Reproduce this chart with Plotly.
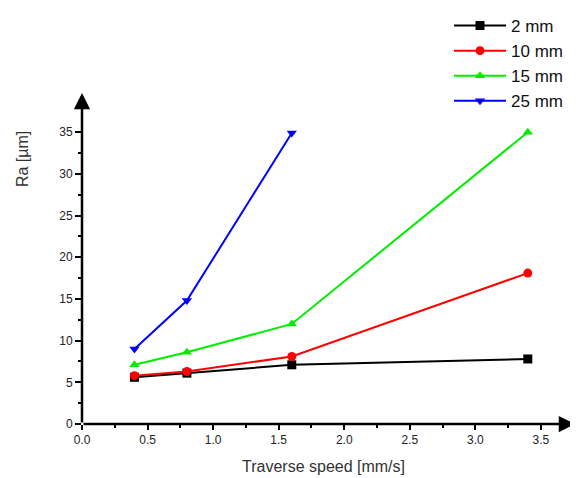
import plotly.graph_objects as go

speed = [0.4, 0.8, 1.6, 3.4]
speed_25 = [0.4, 0.8, 1.6]
ra_2mm = [5.6, 6.1, 7.1, 7.8]
ra_10mm = [5.8, 6.3, 8.1, 18.1]
ra_15mm = [7.1, 8.6, 12.0, 35.0]
ra_25mm = [9.0, 14.8, 34.9]

x_ticks = [0.0, 0.5, 1.0, 1.5, 2.0, 2.5, 3.0, 3.5]
y_ticks = [0, 5, 10, 15, 20, 25, 30, 35]
labels = ["2 mm", "10 mm", "15 mm", "25 mm"]

FONT = "Liberation Sans, Arial, sans-serif"

fig = go.Figure()
series = [
    (labels[0], speed, ra_2mm, "#000000", "square"),
    (labels[1], speed, ra_10mm, "#ff0000", "circle"),
    (labels[2], speed, ra_15mm, "#00ee00", "triangle-up"),
    (labels[3], speed_25, ra_25mm, "#0000ff", "triangle-down"),
]
for name, xs, ys, col, sym in series:
    fig.add_trace(go.Scatter(x=xs, y=ys, name=name + "\u00a0\u00a0", mode="lines+markers",
                             line=dict(color=col, width=2),
                             marker=dict(color=col, symbol=sym, size=9)))

XMAX = 3.76
YMAX = 39.7
fig.update_layout(
    width=570, height=470,
    margin=dict(l=74, r=3, t=85, b=54, autoexpand=False),
    plot_bgcolor="white", paper_bgcolor="white",
    font=dict(family=FONT, color="#222"),
    showlegend=True,
    legend=dict(xref="container", yref="container", x=1.0, y=1.026,
                xanchor="right", yanchor="top", font=dict(size=17, color="#111"),
                itemwidth=52, tracegroupgap=0, bgcolor="rgba(0,0,0,0)"),
    xaxis=dict(range=[0, XMAX], tickvals=x_ticks, ticktext=[f"{v:.1f}" for v in x_ticks],
               showgrid=False, zeroline=False, showline=False,
               ticks="outside", ticklen=5, tickwidth=2, tickcolor="black",
               tickfont=dict(size=12, color="#222"),
               minor=dict(tickvals=[0.25, 0.75, 1.25, 1.75, 2.25, 2.75, 3.25], ticks="outside",
                          ticklen=3, tickwidth=2, tickcolor="black")),
    yaxis=dict(range=[0, YMAX], tickvals=y_ticks,
               showgrid=False, zeroline=False, showline=False,
               ticks="outside", ticklen=6, tickwidth=2, tickcolor="black",
               tickfont=dict(size=12, color="#222"),
               minor=dict(tickvals=[2.5, 7.5, 12.5, 17.5, 22.5, 27.5, 32.5], ticks="outside",
                          ticklen=3, tickwidth=2, tickcolor="black")),
)

# axis lines with arrowheads
fig.add_annotation(x=XMAX, y=0, xref="x", yref="y", ax=0, ay=0, axref="x", ayref="y",
                   text="", showarrow=True, arrowhead=2, arrowsize=1.3, arrowwidth=2.5,
                   arrowcolor="black")
fig.add_annotation(x=0, y=YMAX, xref="x", yref="y", ax=0, ay=0, axref="x", ayref="y",
                   text="", showarrow=True, arrowhead=2, arrowsize=1.3, arrowwidth=2.5,
                   arrowcolor="black")

fig.add_annotation(text="Traverse speed [mm/s]", xref="paper", yref="paper",
                   x=0.489, y=-0.127, xanchor="center", yanchor="middle", showarrow=False,
                   font=dict(size=16, color="#333"))
fig.add_annotation(text="Ra [µm]", xref="paper", yref="paper",
                   x=-0.122, y=0.8, xanchor="center", yanchor="middle", showarrow=False,
                   textangle=-90, font=dict(size=16, color="#333"))

fig.write_html("out.html")
